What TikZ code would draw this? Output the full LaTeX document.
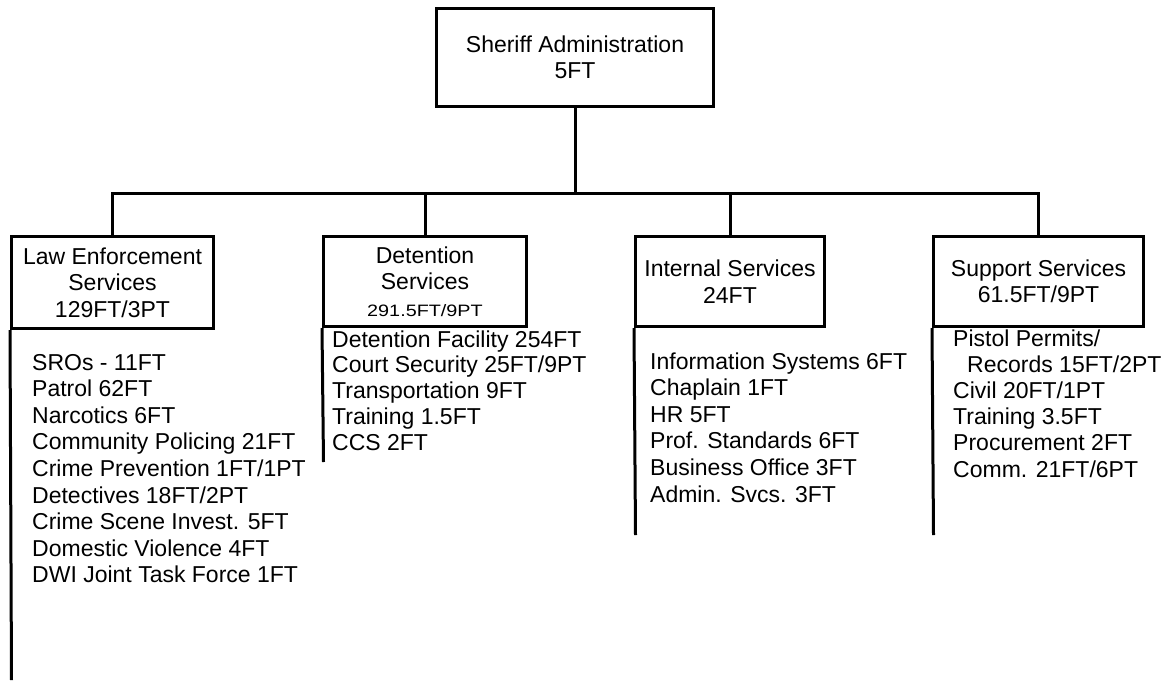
\documentclass[tikz,border=0pt]{standalone}
\usepackage{fontspec}
\usepackage{graphicx}
\setmainfont{Liberation Sans}
\begin{document}
\begin{tikzpicture}[x=1pt,y=-1pt,
  box/.style={draw=black,line width=3pt,rectangle,align=center,inner sep=0pt,
    font=\fontsize{23}{26.5}\selectfont},
  conn/.style={draw=black,line width=3pt},
  item/.style={anchor=base west,inner sep=0pt,font=\fontsize{23}{26.5}\selectfont}]
\useasboundingbox (0,0) rectangle (1172,680);
\fill[white] (0,0) rectangle (1172,680);
% boxes
\node[box,minimum width=277pt,minimum height=98pt] (admin) at (575,57.5) {Sheriff Administration\\5FT};
\node[box,minimum width=202pt,minimum height=92pt] (le) at (112.5,282.5) {Law Enforcement\\Services\\129FT/3PT};
\node[box,minimum width=203pt,minimum height=90pt] (det) at (425,281.5) {Detention\\Services\\\scalebox{1.2}[1]{\fontsize{16.5}{18}\selectfont 291.5FT/9PT}};
\node[box,minimum width=189pt,minimum height=90pt] (int) at (730,281.5) {Internal Services\\24FT};
\node[box,minimum width=210pt,minimum height=90pt] (sup) at (1038.5,281.5) {Support Services\\61.5FT/9PT};
% tree connectors
\coordinate (bar) at (575,193);
\draw[conn] (admin.south) -- (bar);
\draw[conn] (le.north) -- (le.north |- bar) -- (sup.north |- bar) -- (sup.north);
\draw[conn] (det.north) -- (det.north |- bar);
\draw[conn] (int.north) -- (int.north |- bar);
% side lines
\coordinate (leend) at (11.5,680);
\coordinate (detend) at (323.5,462);
\coordinate (intend) at (635.5,535);
\coordinate (supend) at (933.5,535);
\draw[conn] (le.south west) -- (leend);
\draw[conn] (det.south west) -- (detend);
\draw[conn] (int.south west) -- (intend);
\draw[conn] (sup.south west) -- (supend);
% lists
\foreach \t [count=\i from 0] in {SROs - 11FT,Patrol 62FT,Narcotics 6FT,Community Policing 21FT,Crime Prevention 1FT/1PT,Detectives 18FT/2PT,Crime Scene Invest. 5FT,Domestic Violence 4FT,DWI Joint Task Force 1FT}
  \node[item] (le\i) at (32,370+26.6*\i) {\t};
\foreach \t [count=\i from 0] in {Detention Facility 254FT,Court Security 25FT/9PT,Transportation 9FT,Training 1.5FT,CCS 2FT}
  \node[item] (det\i) at (332,347+25.75*\i) {\t};
\foreach \t [count=\i from 0] in {Information Systems 6FT,Chaplain 1FT,HR 5FT,Prof. Standards 6FT,Business Office 3FT,Admin. Svcs. 3FT}
  \node[item] (int\i) at (650,369+26.6*\i) {\t};
\node[item] (sup0) at (953,346) {Pistol Permits/};
\node[item] (sup1) at (967,372.2) {Records 15FT/2PT};
\node[item] (sup2) at (953,398.4) {Civil 20FT/1PT};
\node[item] (sup3) at (953,424.6) {Training 3.5FT};
\node[item] (sup4) at (953,450.8) {Procurement 2FT};
\node[item] (sup5) at (953,477) {Comm. 21FT/6PT};
\end{tikzpicture}
\end{document}
